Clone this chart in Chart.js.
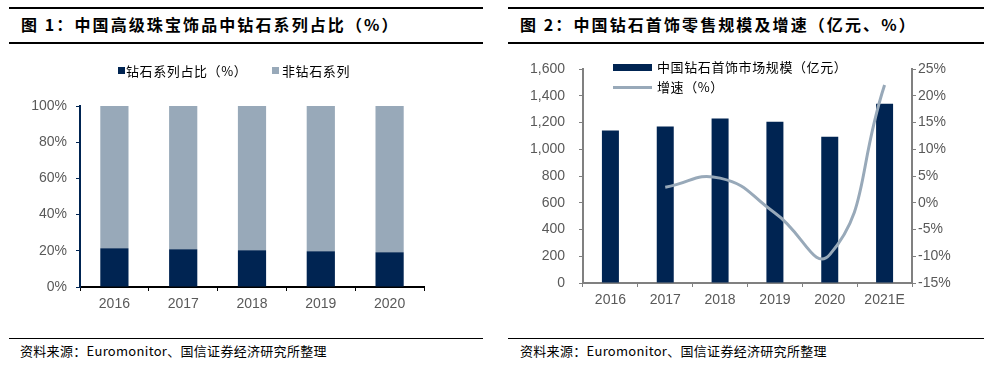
<!DOCTYPE html>
<html>
<head>
<meta charset="utf-8">
<script src="https://cdn.jsdelivr.net/npm/chart.js@4.4.1/dist/chart.umd.min.js"></script>
<style>
  body { margin: 0; background: #fff; width: 993px; height: 366px; overflow: hidden; position: relative; font-family: "Noto Sans CJK SC", sans-serif; }
  .rule { position: absolute; height: 0; border-top: 2px solid #000; }
  .title { position: absolute; font-weight: bold; font-size: 16px; letter-spacing: 2.1px; color: #000; line-height: 20px; }
  .src { position: absolute; font-size: 13px; color: #000; line-height: 16px; letter-spacing: 0.3px; }
  .leg { position: absolute; font-size: 13px; color: #000; line-height: 16px; letter-spacing: 0.6px; }
  .sw { position: absolute; }
  canvas { position: absolute; }
</style>
</head>
<body>
<div class="rule" style="left:9px;top:7px;width:474px"></div>
<div class="rule" style="left:9px;top:42px;width:474px"></div>
<div class="rule" style="left:508px;top:7px;width:476px"></div>
<div class="rule" style="left:508px;top:42px;width:476px"></div>
<div class="title" style="left:21px;top:14px">图 1：中国高级珠宝饰品中钻石系列占比（%）</div>
<div class="title" style="left:520px;top:14px">图 2：中国钻石首饰零售规模及增速（亿元、%）</div>

<canvas id="left" width="497" height="320" style="left:0;top:0"></canvas>
<canvas id="right" width="496" height="320" style="left:497px;top:0"></canvas>

<div class="sw" style="left:118px;top:67px;width:7px;height:7px;background:#002452"></div>
<div class="leg" style="left:126px;top:63px">钻石系列占比（%）</div>
<div class="sw" style="left:272px;top:67px;width:7px;height:7px;background:#98A9B9"></div>
<div class="leg" style="left:282px;top:63px">非钻石系列</div>

<div class="sw" style="left:613px;top:64px;width:39px;height:7px;background:#002452"></div>
<div class="leg" style="left:657px;top:59px">中国钻石首饰市场规模（亿元）</div>
<div class="sw" style="left:613px;top:86px;width:39px;height:3px;background:#98A9B9"></div>
<div class="leg" style="left:657px;top:79px">增速（%）</div>

<div class="rule" style="left:9px;top:338px;width:474px;border-top-width:1px"></div>
<div class="rule" style="left:508px;top:338px;width:476px;border-top-width:1px"></div>
<div class="src" style="left:20px;top:343px">资料来源：Euromonitor、国信证券经济研究所整理</div>
<div class="src" style="left:520px;top:343px">资料来源：Euromonitor、国信证券经济研究所整理</div>

<script>
// chart 1
var years1 = ['2016', '2017', '2018', '2019', '2020']
var diamondShare = [21.4, 20.8, 20.3, 19.7, 19.2]
var nonDiamond = [78.6, 79.2, 79.7, 80.3, 80.8]

// chart 2
var years2 = ['2016', '2017', '2018', '2019', '2020', '2021E']
var marketSize = [1140, 1170, 1229, 1206, 1094, 1341]
var growth = [null, 2.9, 4.6, -1.9, -9.7, 22.0]

var navy = '#002452'
var grey = '#98A9B9'
var tickFont = { family: '"Liberation Sans", Arial, sans-serif', size: 14 }
var tickColor = '#595959'

Chart.defaults.animation = false

new Chart(document.getElementById('left').getContext('2d'), {
  type: 'bar',
  data: {
    labels: years1,
    datasets: [{
      data: diamondShare,
      backgroundColor: navy,
      barPercentage: 0.41,
      categoryPercentage: 1
    }, {
      data: nonDiamond,
      backgroundColor: grey,
      barPercentage: 0.41,
      categoryPercentage: 1
    }]
  },
  options: {
    responsive: false,
    layout: { padding: { top: 106, right: 73, left: 0, bottom: 0 } },
    plugins: { legend: { display: false }, tooltip: { enabled: false } },
    scales: {
      x: {
        stacked: true,
        afterFit: function (s) { s.height = 33 },
        border: { color: '#000', width: 2 },
        grid: { drawOnChartArea: false, tickLength: 4, color: '#000', lineWidth: 1 },
        ticks: { font: tickFont, color: tickColor, padding: 5 }
      },
      y: {
        stacked: true,
        min: 0,
        max: 100,
        afterFit: function (s) { s.width = 80 },
        border: { color: navy, width: 2 },
        grid: { drawOnChartArea: false, tickLength: 4, color: navy, lineWidth: 1 },
        ticks: { stepSize: 20, font: tickFont, color: tickColor, padding: 9,
          callback: function (v) { return v + '%' } }
      }
    }
  }
})

new Chart(document.getElementById('right').getContext('2d'), {
  type: 'bar',
  data: {
    labels: years2,
    datasets: [{
      type: 'line',
      data: growth,
      yAxisID: 'y2',
      borderColor: grey,
      borderWidth: 3,
      pointRadius: 0,
      tension: 0.5,
      order: 0
    }, {
      data: marketSize,
      yAxisID: 'y',
      backgroundColor: navy,
      barPercentage: 0.31,
      categoryPercentage: 1,
      order: 1
    }]
  },
  options: {
    responsive: false,
    layout: { padding: { top: 69, right: 0, left: 0, bottom: 0 } },
    plugins: { legend: { display: false }, tooltip: { enabled: false } },
    scales: {
      x: {
        afterFit: function (s) { s.height = 37 },
        border: { color: '#808080', width: 2 },
        grid: { drawOnChartArea: false, tickLength: 4, color: '#808080', lineWidth: 1 },
        ticks: { font: tickFont, color: tickColor, padding: 5 }
      },
      y: {
        position: 'left',
        min: 0,
        max: 1600,
        afterFit: function (s) { s.width = 86 },
        border: { color: '#808080', width: 2 },
        grid: { drawOnChartArea: false, tickLength: 4, color: '#808080', lineWidth: 1 },
        ticks: { stepSize: 200, font: tickFont, color: tickColor, padding: 14,
          callback: function (v) { return v.toLocaleString('en-US') } }
      },
      y2: {
        position: 'right',
        min: -15,
        max: 25,
        afterFit: function (s) { s.width = 81 },
        border: { color: '#808080', width: 2 },
        grid: { drawOnChartArea: false, tickLength: 4, color: '#808080', lineWidth: 1 },
        ticks: { stepSize: 5, font: tickFont, color: tickColor, padding: 2,
          callback: function (v) { return v + '%' } }
      }
    }
  }
})
</script>
</body>
</html>
